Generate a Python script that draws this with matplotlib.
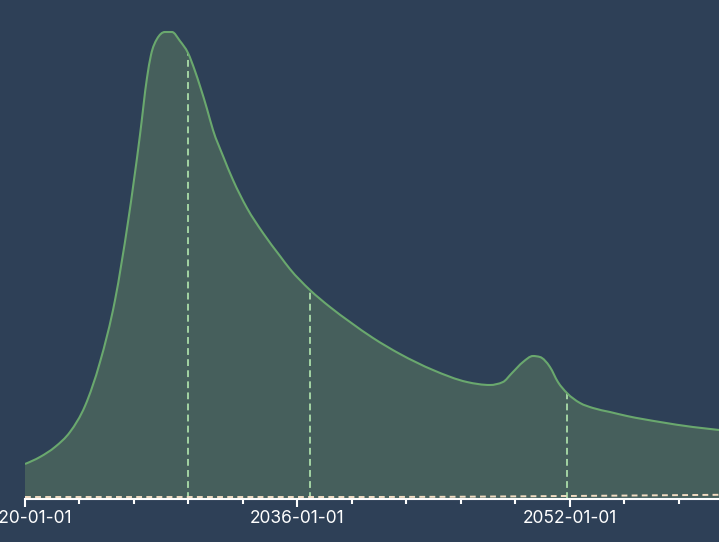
import numpy as np
import pandas as pd
import matplotlib
matplotlib.use("Agg")
import matplotlib.pyplot as plt
import matplotlib.dates as mdates
from matplotlib.path import Path
from matplotlib.patches import PathPatch

# main area series
dates = ['2020-01-01', '2020-11-17', '2021-10-05', '2022-08-23', '2023-07-11',
         '2024-05-28', '2025-04-15', '2026-01-18', '2026-10-02', '2027-03-01',
         '2027-05-26', '2027-10-01', '2028-03-20', '2028-08-18', '2029-02-06',
         '2029-07-28', '2029-12-25', '2030-04-11', '2030-09-09', '2031-01-15',
         '2031-08-18', '2032-03-19', '2033-01-13', '2033-12-23', '2034-12-22',
         '2035-07-23', '2036-09-25', '2037-11-28', '2039-02-01', '2040-06-08',
         '2042-01-08', '2043-12-16', '2045-12-14', '2047-04-21', '2048-01-25',
         '2048-08-06', '2049-03-30', '2049-10-30', '2050-03-28', '2050-10-29',
         '2051-04-18', '2051-10-28', '2052-08-04', '2053-05-09', '2054-05-08',
         '2055-05-07', '2057-04-15', '2059-03-22', '2060-10-02', '2061-12-25']
values = [35, 42, 52, 67, 93,
          137, 199, 277, 364, 421,
          444, 460, 467, 467, 458,
          446, 428, 413, 390, 369,
          343, 319, 291, 266, 243,
          230, 209, 192, 177, 161,
          145, 129, 117, 114, 117,
          126, 137, 143, 142, 132,
          117, 106, 96, 91, 87,
          83, 77, 72, 69, 66]

# small series along the baseline
low_dates = ['2020-01-01', '2030-01-01', '2040-01-01', '2045-01-01',
             '2050-01-01', '2055-01-01', '2060-10-01', '2062-01-01']
low_values = [2, 2, 2, 2.2, 2.8, 3.4, 4.2, 4.5]

# marked dates (dashed drop lines)
marks = ['2029-07-28', '2036-09-25', '2051-10-28']

# labelled ticks
major_ticks = ['2020-01-01', '2036-01-01', '2052-01-01']

bg = '#2e4057'
line_c = '#6aa86e'
fill_c = '#465f5c'


def monotone_path(x, y):
    # cubic bezier through the points, monotone in x (like d3.curveMonotoneX)
    n = len(x)
    h = np.diff(x)
    s = np.diff(y) / h
    t = np.zeros(n)
    for i in range(1, n - 1):
        p = (s[i - 1] * h[i] + s[i] * h[i - 1]) / (h[i - 1] + h[i])
        t[i] = (np.sign(s[i - 1]) + np.sign(s[i])) * min(abs(s[i - 1]), abs(s[i]), 0.5 * abs(p))
    t[0] = (3 * s[0] - t[1]) / 2
    t[-1] = (3 * s[-1] - t[-2]) / 2
    verts = [(x[0], y[0])]
    codes = [Path.MOVETO]
    for i in range(n - 1):
        dx = h[i] / 3
        verts += [(x[i] + dx, y[i] + dx * t[i]), (x[i + 1] - dx, y[i + 1] - dx * t[i + 1]),
                  (x[i + 1], y[i + 1])]
        codes += [Path.CURVE4] * 3
    return verts, codes


x = mdates.date2num(pd.to_datetime(dates))
y = np.array(values, dtype=float)
xl = mdates.date2num(pd.to_datetime(low_dates))
xm = mdates.date2num(pd.to_datetime(marks))

fig = plt.figure(figsize=(7.19, 5.42), dpi=100, facecolor=bg)
ax = fig.add_axes([25 / 719, 43 / 542, 694 / 719, 499 / 542])
ax.set_facecolor(bg)

verts, codes = monotone_path(x, y)
fill_verts = verts + [(x[-1], 0), (x[0], 0), (x[0], y[0])]
fill_codes = codes + [Path.LINETO, Path.LINETO, Path.CLOSEPOLY]
ax.add_patch(PathPatch(Path(fill_verts, fill_codes), facecolor=fill_c, lw=0, zorder=1))
ax.add_patch(PathPatch(Path(verts, codes), facecolor='none', edgecolor=line_c, lw=1.5, zorder=3))

ax.vlines(xm, 0, np.interp(xm, x, y), colors='#a3d4a3', lw=1.4,
          linestyles=(0, (3.5, 2.2)), zorder=2)
ax.plot(xl, low_values, color='#f2dcc2', lw=1.4, ls=(0, (3, 2.2)), zorder=2)

x0 = mdates.date2num(pd.Timestamp('2020-01-01'))

for s in ['top', 'right', 'left']:
    ax.spines[s].set_visible(False)
ax.spines['bottom'].set_color('white')
ax.spines['bottom'].set_linewidth(1.5)
ax.set_yticks([])

ax.set_xticks(mdates.date2num(pd.to_datetime(major_ticks)))
ax.set_xticklabels(major_ticks)
ax.set_xticks(x0 + np.arange(0, 13) * 3.2 * 365.25, minor=True)
ax.tick_params(axis='x', which='major', length=6, width=1.5, color='white',
               labelcolor='white', labelsize=12.5, pad=2)
ax.tick_params(axis='x', which='minor', length=3.6, width=1.5, color='white')
for t in ax.get_xticklabels():
    t.set_fontfamily('Inter')

# limits after the ticks, set_xticks would widen them
ax.set_xlim(x0, x0 + 694 / 17.03 * 365.25)
ax.set_ylim(0, 499)

fig.savefig('out.png', dpi=100, facecolor=bg)
